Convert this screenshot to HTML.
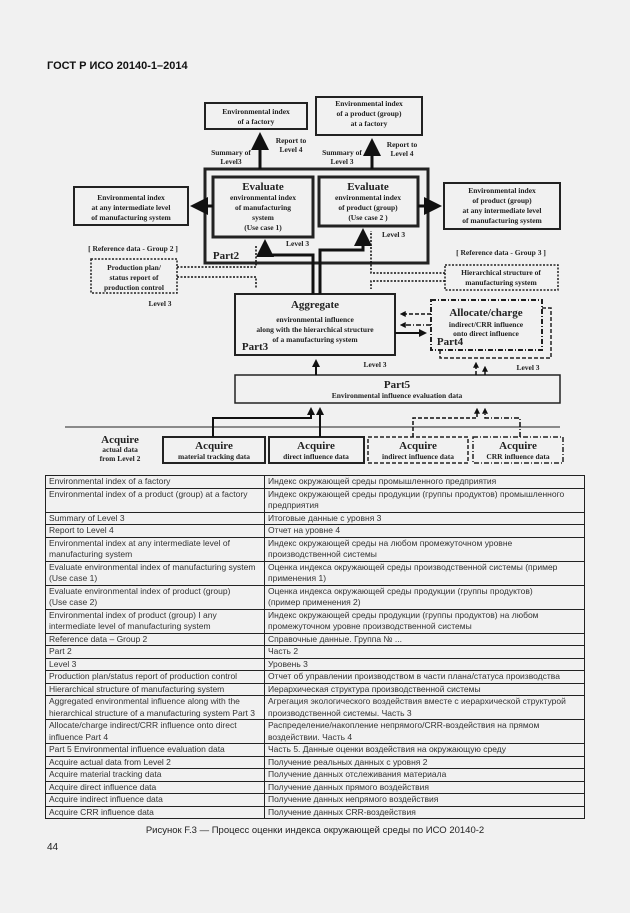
<!DOCTYPE html>
<html><head><meta charset="utf-8"><style>
body{margin:0;width:630px;height:913px;background:#f1f1f1;position:relative;overflow:hidden;font-family:"Liberation Sans",sans-serif}
.hdr{position:absolute;left:47px;top:60px;font-weight:bold;font-size:11px;color:#111}
svg{position:absolute;left:0;top:0}
svg text{font-family:"Liberation Serif",serif;font-weight:bold;fill:#222;text-anchor:middle}
table{position:absolute;left:45px;top:475px;width:540px;border-collapse:collapse;font-size:8.5px;color:#333}
td{border:1px solid #222;padding:0 3px;line-height:11.5px;vertical-align:top;height:11px}
td:first-child{width:212px}
.cap{position:absolute;left:0;width:630px;text-align:center;top:825px;font-size:9.5px;color:#222}
.pg{position:absolute;left:47px;top:842px;font-size:10px;color:#222}
</style></head><body>
<div class="hdr">ГОСТ Р ИСО 20140-1–2014</div>
<svg width="630" height="470" viewBox="0 0 630 470">
<defs><marker id="a" markerWidth="4" markerHeight="4" refX="2.5" refY="2" orient="auto"><path d="M0,0L4,2L0,4z" fill="#111"/></marker>
<marker id="s" markerWidth="6" markerHeight="6" refX="4" refY="3" orient="auto"><path d="M0,0L6,3L0,6z" fill="#111"/></marker></defs>
<g fill="none" stroke="#222">
<rect x="205" y="103" width="102" height="26" stroke-width="2"/>
<rect x="316" y="97" width="106" height="38" stroke-width="2"/>
<rect x="205" y="169" width="223" height="94" stroke-width="3"/>
<rect x="213" y="177" width="100" height="60" stroke-width="3"/>
<rect x="319" y="177" width="99" height="49" stroke-width="3"/>
<rect x="74" y="187" width="114" height="38" stroke-width="2"/>
<rect x="444" y="183" width="116" height="46" stroke-width="2"/>
<rect x="91" y="259" width="86" height="34" stroke-width="1.5" stroke-dasharray="2,1.5"/>
<rect x="445" y="265" width="113" height="25" stroke-width="1.5" stroke-dasharray="2,1.5"/>
<rect x="235" y="294" width="160" height="61" stroke-width="2"/>
<rect x="440" y="308" width="111" height="50" stroke-width="1.5" stroke-dasharray="4,2"/>
<rect x="431" y="300" width="111" height="50" stroke-width="2" stroke-dasharray="5,2,1,2" fill="#f1f1f1"/>
<rect x="235" y="375" width="325" height="28" stroke-width="1.5"/>
<line x1="65" y1="427" x2="560" y2="427" stroke-width="1"/>
<rect x="163" y="437" width="102" height="26" stroke-width="2"/>
<rect x="269" y="437" width="95" height="26" stroke-width="2"/>
<rect x="368" y="437" width="100" height="26" stroke-width="1.5" stroke-dasharray="4,2"/>
<rect x="473" y="437" width="90" height="26" stroke-width="1.5" stroke-dasharray="5,2,1,2"/>
<g stroke="#111" stroke-width="3">
<line x1="260" y1="169" x2="260" y2="138" marker-end="url(#s)"/>
<line x1="372" y1="169" x2="372" y2="144" marker-end="url(#s)"/>
<line x1="213" y1="206" x2="196" y2="206" marker-end="url(#s)"/>
<line x1="418" y1="206" x2="436" y2="206" marker-end="url(#s)"/>
<polyline points="313,294 313,255 265,255 265,245" marker-end="url(#s)"/>
<polyline points="320,294 320,250 363,250 363,234" marker-end="url(#s)"/>
</g>
<g stroke="#111" stroke-width="2">
<line x1="316" y1="375" x2="316" y2="362" marker-end="url(#a)"/>
<polyline points="213,437 213,418 311,418 311,410" marker-end="url(#a)"/>
<line x1="320" y1="437" x2="320" y2="410" marker-end="url(#a)"/>
<line x1="395" y1="333" x2="424" y2="333" marker-end="url(#a)"/>
</g>
<g stroke="#111" stroke-width="1.5" stroke-dasharray="2,1.5">
<polyline points="177,267 256,267 256,245"/>
<polyline points="177,277 256,277 256,289"/>
<polyline points="445,273 371,273 371,231"/>
<polyline points="445,281 371,281 371,289"/>
</g>
<g stroke="#111" stroke-width="1.5" stroke-dasharray="4,2">
<line x1="431" y1="314" x2="402" y2="314" marker-end="url(#a)"/>
<line x1="476" y1="375" x2="476" y2="364" marker-end="url(#a)"/>
<polyline points="413,437 413,418 477,418 477,410" marker-end="url(#a)"/>
</g>
<g stroke="#111" stroke-width="1.5" stroke-dasharray="5,2,1,2">
<line x1="431" y1="325" x2="402" y2="325" marker-end="url(#a)"/>
<line x1="485" y1="375" x2="485" y2="368" marker-end="url(#a)"/>
<polyline points="520,437 520,418 485,418 485,410" marker-end="url(#a)"/>
</g>
</g>
<g font-size="7.5">
<text x="256" y="114">Environmental index</text><text x="256" y="124">of a factory</text>
<text x="369" y="106">Environmental index</text><text x="369" y="116">of a product (group)</text><text x="369" y="126">at a factory</text>
<text x="291" y="143">Report to</text><text x="291" y="152">Level 4</text>
<text x="231" y="155">Summary of</text><text x="231" y="164">Level3</text>
<text x="402" y="147">Report to</text><text x="402" y="156">Level 4</text>
<text x="342" y="155">Summary of</text><text x="342" y="164">Level 3</text>
<text x="263" y="200">environmental index</text><text x="263" y="210">of manufacturing</text><text x="263" y="220">system</text><text x="263" y="230">(Use case 1)</text>
<text x="368" y="200">environmental index</text><text x="368" y="210">of product (group)</text><text x="368" y="220">(Use case 2 )</text>
<text x="131" y="200">Environmental index</text><text x="131" y="210">at any intermediate level</text><text x="131" y="220">of manufacturing system</text>
<text x="502" y="193">Environmental index</text><text x="502" y="203">of product (group)</text><text x="502" y="213">at any intermediate level</text><text x="502" y="223">of manufacturing system</text>
<text x="286" y="246" style="text-anchor:start">Level 3</text>
<text x="382" y="237" style="text-anchor:start">Level 3</text>
<text x="133" y="251">[ Reference data - Group 2 ]</text>
<text x="501" y="255">[ Reference data - Group 3 ]</text>
<text x="134" y="270">Production plan/</text><text x="134" y="280">status report of</text><text x="134" y="290">production control</text>
<text x="501" y="275">Hierarchical structure of</text><text x="501" y="285">manufacturing system</text>
<text x="160" y="306">Level 3</text>
<text x="315" y="322">environmental influence</text><text x="315" y="332">along with the hierarchical structure</text><text x="315" y="342">of a manufacturing system</text>
<text x="486" y="327">indirect/CRR influence</text><text x="486" y="336">onto direct influence</text>
<text x="375" y="367">Level 3</text><text x="528" y="370">Level 3</text>
<text x="397" y="398">Environmental influence evaluation data</text>
<text x="214" y="459">material tracking data</text><text x="316" y="459">direct influence data</text>
<text x="418" y="459">indirect influence data</text><text x="518" y="459">CRR influence data</text>
<text x="120" y="452">actual data</text><text x="120" y="461">from Level 2</text>
</g>
<g font-size="11">
<text x="263" y="190">Evaluate</text><text x="368" y="190">Evaluate</text>
<text x="315" y="308">Aggregate</text><text x="486" y="316">Allocate/charge</text>
<text x="397" y="388">Part5</text>
<text x="214" y="449">Acquire</text><text x="316" y="449">Acquire</text><text x="418" y="449">Acquire</text><text x="518" y="449">Acquire</text>
<text x="120" y="443">Acquire</text>
<text x="226" y="259">Part2</text><text x="255" y="350">Part3</text><text x="450" y="345">Part4</text>
</g>
</svg>
<table>
<tr><td>Environmental index of a factory</td><td>Индекс окружающей среды промышленного предприятия</td></tr>
<tr><td>Environmental index of a product (group) at a factory</td><td>Индекс окружающей среды продукции (группы продуктов) промышленного предприятия</td></tr>
<tr><td>Summary of Level 3</td><td>Итоговые данные с уровня 3</td></tr>
<tr><td>Report to Level 4</td><td>Отчет на уровне 4</td></tr>
<tr><td>Environmental index at any intermediate level of manufacturing system</td><td>Индекс окружающей среды на любом промежуточном уровне<br>производственной системы</td></tr>
<tr><td>Evaluate environmental index of manufacturing system (Use case 1)</td><td>Оценка индекса окружающей среды производственной системы (пример применения 1)</td></tr>
<tr><td>Evaluate environmental index of product (group)<br>(Use case 2)</td><td>Оценка индекса окружающей среды продукции (группы продуктов)<br>(пример применения 2)</td></tr>
<tr><td>Environmental index of product (group) I any<br>intermediate level of manufacturing system</td><td>Индекс окружающей среды продукции (группы продуктов) на любом<br>промежуточном уровне производственной системы</td></tr>
<tr><td>Reference data – Group 2</td><td>Справочные данные. Группа № ...</td></tr>
<tr><td>Part 2</td><td>Часть 2</td></tr>
<tr><td>Level 3</td><td>Уровень 3</td></tr>
<tr><td>Production plan/status report of production control</td><td>Отчет об управлении производством в части плана/статуса производства</td></tr>
<tr><td>Hierarchical structure of manufacturing system</td><td>Иерархическая структура производственной системы</td></tr>
<tr><td>Aggregated environmental influence along with the hierarchical structure of a manufacturing system Part 3</td><td>Агрегация экологического воздействия вместе с иерархической структурой производственной системы. Часть 3</td></tr>
<tr><td>Allocate/charge indirect/CRR influence onto direct influence Part 4</td><td>Распределение/накопление непрямого/CRR-воздействия на прямом воздействии. Часть 4</td></tr>
<tr><td>Part 5 Environmental influence evaluation data</td><td>Часть 5. Данные оценки воздействия на окружающую среду</td></tr>
<tr><td>Acquire actual data from Level 2</td><td>Получение реальных данных с уровня 2</td></tr>
<tr><td>Acquire material tracking data</td><td>Получение данных отслеживания материала</td></tr>
<tr><td>Acquire direct influence data</td><td>Получение данных прямого воздействия</td></tr>
<tr><td>Acquire indirect influence data</td><td>Получение данных непрямого воздействия</td></tr>
<tr><td>Acquire CRR influence data</td><td>Получение данных CRR-воздействия</td></tr>
</table>
<div class="cap">Рисунок F.3 — Процесс оценки индекса окружающей среды по ИСО 20140-2</div>
<div class="pg">44</div>
</body></html>
